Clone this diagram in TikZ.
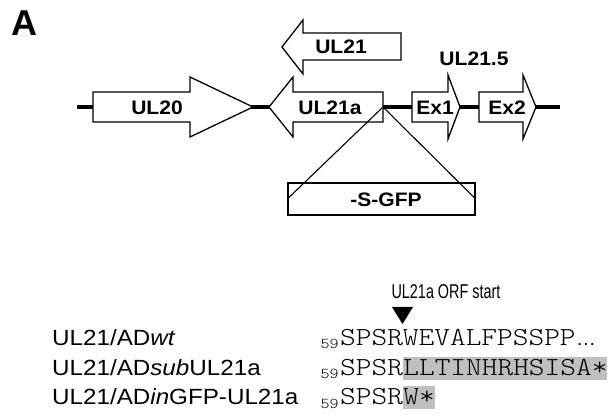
\documentclass[tikz,border=0pt]{standalone}
\usepackage{fontspec}
\setmainfont{Liberation Sans}
\newfontfamily\genefont{Liberation Sans}[FakeStretch=1.08]
\newfontfamily\labfont{Liberation Sans}[FakeStretch=1.1]
\newfontfamily\orffont{Liberation Sans}[FakeStretch=0.72]
\newfontfamily\seqfont{lmmonolt10-regular.otf}[FakeStretch=1.15]
\usetikzlibrary{positioning}

\tikzset{
  gene/.style={draw, fill=white, line width=1.3pt, line join=miter},
  genelab/.style={font=\genefont\fontsize{19.5}{20}\selectfont\bfseries, inner sep=0pt},
  rowlab/.style={font=\labfont\fontsize{22}{24}\selectfont, inner sep=0pt, anchor=base west},
  seq/.style={font=\seqfont\fontsize{26}{28}\selectfont, inner sep=0pt, anchor=base west},
  subnum/.style={font=\seqfont\fontsize{15}{16}\selectfont, inner sep=0pt, anchor=base east},
  hl/.style={fill=black!25, inner xsep=0pt, inner ysep=0pt, text height=19pt, text depth=4pt}
}

\begin{document}
\begin{tikzpicture}[x=1pt, y=-1pt]
    \useasboundingbox (0,0) rectangle (613,419);

    \node[font=\fontsize{36}{36}\selectfont\bfseries, inner sep=0pt] (panel) at (24.5,23) {A};

    \coordinate (bbL) at (77,107);
    \coordinate (bbR) at (560,107);
    \draw[line width=4pt] (bbL) -- (bbR);

    \draw[gene] (93,92) -- (190,92) -- (190,77) -- (253,107) -- (190,137) -- (190,122) -- (93,122) -- cycle;
    \draw[gene] (383,92) -- (293,92) -- (293,77) -- (269,107) -- (293,137) -- (293,122) -- (383,122) -- cycle;
    \draw[gene] (401,33) -- (303,33) -- (303,20) -- (282,47) -- (303,74) -- (303,60) -- (401,60) -- cycle;
    \foreach \a/\b/\c in {412/448/460, 479/523/536}
        \draw[gene] (\a,92) -- (\b,92) -- (\b,75) -- (\c,107) -- (\b,139) -- (\b,122) -- (\a,122) -- cycle;

    \node[genelab] (ul20) at (157,107.5) {UL20};
    \node[genelab] (ul21a) at (330,107.5) {UL21a};
    \node[genelab] (ul21) at (341,47) {UL21};
    \node[genelab] (ex1) at (435,107.5) {Ex1};
    \node[genelab] (ex2) at (507,107.5) {Ex2};
    \node[genelab] (ul215) at (474,58.5) {UL21.5};

    \coordinate (ins) at (383,107);
    \node[draw, line width=1.3pt, minimum width=187pt, minimum height=32pt, inner sep=0pt] (gfp) at (381.5,199) {};
    \node[genelab] (gfplab) at (386,199.5) {-S-GFP};
    \draw[line width=1.1pt] (ins) -- (gfp.west);
    \draw[line width=1.1pt] (ins) -- (gfp.east);

    \node[font=\orffont\fontsize{20}{21}\selectfont, inner sep=0pt] (orf) at (446,291.5) {UL21a ORF start};
    \fill (392,307) -- (413,307) -- (402.5,324) -- cycle;

    \node[rowlab] (lab-wt) at (52,346) {UL21/AD\textit{wt}};
    \node[rowlab] (lab-sub) at (52,376) {UL21/AD\textit{sub}UL21a};
    \node[rowlab] (lab-in) at (52,405) {UL21/AD\textit{in}GFP-UL21a};

    \node[seq] (seq-wt) at (340,346) {SPSRWEVALFPSSPP};
    \node[font=\labfont\fontsize{18}{20}\selectfont, inner sep=0pt, anchor=base west] (dots) at (seq-wt.base east) {…};
    \node[seq] (seq-sub) at (340,376) {SPSR};
    \node[seq, hl] (mut-sub) at (seq-sub.base east) {LLTINHRHSISA*};
    \node[seq] (seq-in) at (340,405) {SPSR};
    \node[seq, hl] (mut-in) at (seq-in.base east) {W*};

    \foreach \r in {wt, sub, in}
        \node[subnum] (num-\r) at ([xshift=-1pt, yshift=-3pt]seq-\r.base west) {59};
\end{tikzpicture}
\end{document}
